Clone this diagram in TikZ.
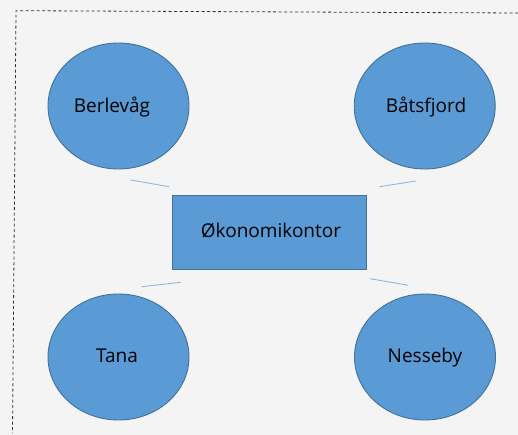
\documentclass[tikz,border=0pt]{standalone}
\usepackage{fontspec}
\setmainfont{Open Sans}
\begin{document}
\begin{tikzpicture}[x=1pt,y=-1pt,
  town/.style={ellipse, draw=stroke, fill=blu, line width=0.9pt, minimum width=141pt, minimum height=126pt, inner sep=0pt},
  office/.style={rectangle, draw=stroke, fill=blu, line width=0.9pt, minimum width=194pt, minimum height=74pt, inner sep=0pt},
  lbl/.style={font=\fontsize{19}{22}\selectfont, text=black},
  link/.style={draw=linkc, line width=0.9pt}]
\usetikzlibrary{shapes.geometric}
\definecolor{blu}{HTML}{5B9BD5}
\definecolor{stroke}{HTML}{41719C}
\definecolor{linkc}{HTML}{8DB8E2}
\definecolor{bg}{HTML}{F4F4F4}
\fill[bg] (0,0) rectangle (518,435);
\useasboundingbox (0,0) rectangle (518,435);
% dashed frame
\coordinate (fr) at (518,13);
\coordinate (ftl) at (16,10.7);
\coordinate (fbl) at (12.5,433);
\draw[draw=black!80, line width=0.8pt, dash pattern=on 3pt off 2.5pt] (fr) -- (ftl) -- (fbl);
% nodes
\node[town] (berlevag) at (118.5,106) {};
\node[lbl] at (112,107) {Berlevåg};
\node[town] (batsfjord) at (424.7,106) {};
\node[lbl] at (426,107) {Båtsfjord};
\node[town] (tana) at (118.5,357) {};
\node[lbl] at (117,356) {Tana};
\node[town] (nesseby) at (425,357) {};
\node[lbl] at (425,358) {Nesseby};
\node[office] (office) at (269,232.5) {};
\node[lbl] at (271,231) {Økonomikontor};
% short links
\coordinate (l1a) at (130.7,180);
\coordinate (l1b) at (169,186.7);
\coordinate (l2a) at (379.7,186.7);
\coordinate (l2b) at (415.7,181);
\coordinate (l3a) at (141.7,286.7);
\coordinate (l3b) at (180.7,282.3);
\coordinate (l4a) at (370,278.7);
\coordinate (l4b) at (408.3,285.3);
\draw[link] (l1a) -- (l1b);
\draw[link] (l2a) -- (l2b);
\draw[link] (l3a) -- (l3b);
\draw[link] (l4a) -- (l4b);
\end{tikzpicture}
\end{document}
